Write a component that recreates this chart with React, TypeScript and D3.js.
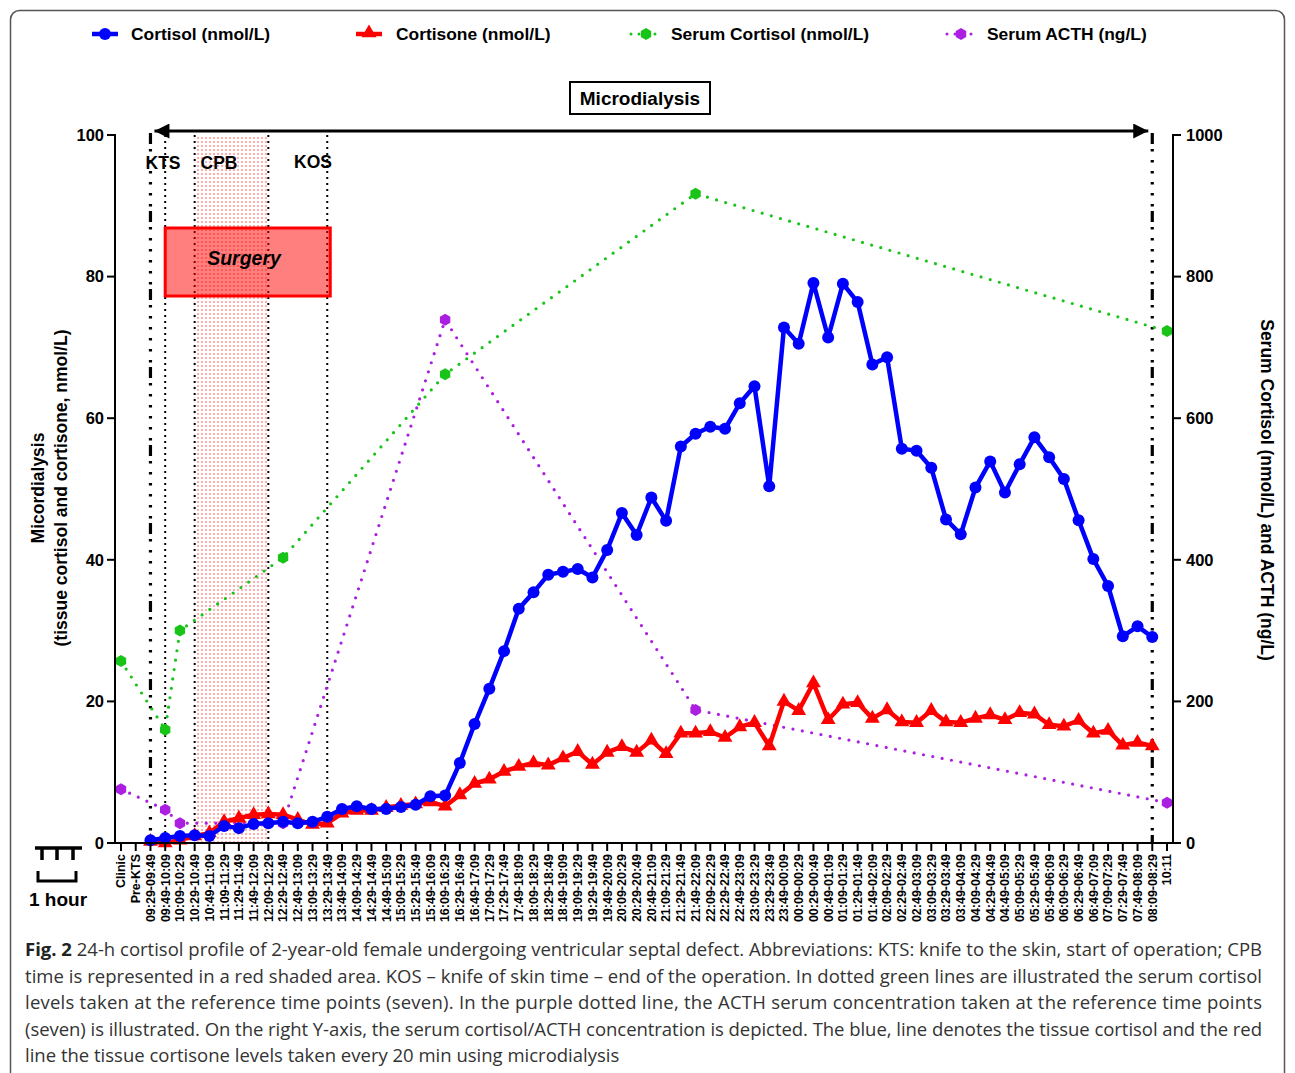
import React from "react";
import * as d3 from "d3";

const timeLabels = [
  "09:29-09:49","09:49-10:09","10:09-10:29","10:29-10:49","10:49-11:09","11:09-11:29","11:29-11:49","11:49-12:09",
  "12:09-12:29","12:29-12:49","12:49-13:09","13:09-13:29","13:29-13:49","13:49-14:09","14:09-14:29","14:29-14:49",
  "14:49-15:09","15:09-15:29","15:29-15:49","15:49-16:09","16:09-16:29","16:29-16:49","16:49-17:09","17:09-17:29",
  "17:29-17:49","17:49-18:09","18:09-18:29","18:29-18:49","18:49-19:09","19:09-19:29","19:29-19:49","19:49-20:09",
  "20:09-20:29","20:29-20:49","20:49-21:09","21:09-21:29","21:29-21:49","21:49-22:09","22:09-22:29","22:29-22:49",
  "22:49-23:09","23:09-23:29","23:29-23:49","23:49-00:09","00:09-00:29","00:29-00:49","00:49-01:09","01:09-01:29",
  "01:29-01:49","01:49-02:09","02:09-02:29","02:29-02:49","02:49-03:09","03:09-03:29","03:29-03:49","03:49-04:09",
  "04:09-04:29","04:29-04:49","04:49-05:09","05:09-05:29","05:29-05:49","05:49-06:09","06:09-06:29","06:29-06:49",
  "06:49-07:09","07:09-07:29","07:29-07:49","07:49-08:09","08:09-08:29",
];
const categories = ["Clinic", "Pre-KTS", ...timeLabels, "10:11"];

// Microdialysis tissue cortisol (nmol/L), one per 20-min interval
const cortisol = [
  0.4, 0.7, 1.0, 1.1, 1.0, 2.4, 2.1, 2.7, 2.8, 3.0, 2.8, 3.0, 3.7, 4.8, 5.2, 4.8,
  4.8, 5.1, 5.4, 6.6, 6.7, 11.3, 16.8, 21.8, 27.1, 33.1, 35.4, 37.9, 38.3, 38.7, 37.5, 41.4,
  46.6, 43.5, 48.8, 45.5, 56.0, 57.8, 58.8, 58.5, 62.1, 64.5, 50.4, 72.8, 70.5, 79.1, 71.4, 79.0,
  76.4, 67.6, 68.6, 55.7, 55.4, 53.0, 45.7, 43.6, 50.2, 53.9, 49.5, 53.5, 57.3, 54.5, 51.4, 45.6,
  40.1, 36.3, 29.2, 30.6, 29.1,
];
// Microdialysis tissue cortisone (nmol/L)
const cortisone = [
  0.2, 0.0, 0.4, 1.0, 1.4, 3.0, 3.5, 4.0, 4.1, 4.0, 3.3, 2.6, 2.8, 4.2, 4.6, 4.6,
  5.0, 5.3, 5.5, 5.8, 5.2, 6.8, 8.4, 9.0, 10.1, 10.8, 11.3, 11.0, 12.0, 12.9, 11.1, 12.8,
  13.6, 12.8, 14.5, 12.6, 15.5, 15.5, 15.7, 14.9, 16.4, 17.0, 13.7, 20.0, 18.7, 22.6, 17.4, 19.6,
  19.8, 17.6, 18.8, 17.1, 17.0, 18.7, 17.1, 17.0, 17.6, 18.1, 17.4, 18.4, 18.2, 16.7, 16.5, 17.3,
  15.5, 15.9, 13.8, 14.2, 13.7,
];
// Serum samples (right axis)
const serumTimes = ["Clinic", "09:49-10:09", "10:09-10:29", "12:29-12:49", "16:09-16:29", "21:49-22:09", "10:11"];
const serumCortisol = [257, 160, 300, 403, 662, 917, 723];
const serumACTH = [76, 47, 28, 28, 739, 188, 57];

const leftTicks = [0, 20, 40, 60, 80, 100];
const rightTicks = [0, 200, 400, 600, 800, 1000];

const captionLines = [
  "24-h cortisol profile of 2-year-old female undergoing ventricular septal defect. Abbreviations: KTS: knife to the skin, start of operation; CPB",
  "time is represented in a red shaded area. KOS – knife of skin time – end of the operation. In dotted green lines are illustrated the serum cortisol",
  "levels taken at the reference time points (seven). In the purple dotted line, the ACTH serum concentration taken at the reference time points",
  "(seven) is illustrated. On the right Y-axis, the serum cortisol/ACTH concentration is depicted. The blue, line denotes the tissue cortisol and the red",
  "line the tissue cortisone levels taken every 20 min using microdialysis",
];

const BLUE = "#0000ff";
const RED = "#ff0000";
const GREEN = "#19c419";
const PURPLE = "#aa1fe0";
const FONT = "'Liberation Sans', Arial, Helvetica, sans-serif";

function hexPath(r: number) {
  const pts: [number, number][] = d3.range(6).map((k) => {
    const a = (Math.PI / 3) * k + Math.PI / 6;
    return [r * Math.cos(a), r * Math.sin(a)];
  });
  return "M" + pts.map((p) => p.join(",")).join("L") + "Z";
}

export default function App() {
  const x = d3.scalePoint<string>().domain(categories).range([121, 1167]);
  const yL = d3.scaleLinear().domain([0, 100]).range([843, 135]);
  const yR = d3.scaleLinear().domain([0, 1000]).range([843, 135]);

  const lineL = d3
    .line<[string, number]>()
    .x((d) => x(d[0])!)
    .y((d) => yL(d[1]));
  const lineR = d3
    .line<[string, number]>()
    .x((d) => x(d[0])!)
    .y((d) => yR(d[1]));

  const cortPts: [string, number][] = timeLabels.map((t, i) => [t, cortisol[i]]);
  const consPts: [string, number][] = timeLabels.map((t, i) => [t, cortisone[i]]);
  const scPts: [string, number][] = serumTimes.map((t, i) => [t, serumCortisol[i]]);
  const acPts: [string, number][] = serumTimes.map((t, i) => [t, serumACTH[i]]);

  const tri = d3.symbol().type(d3.symbolTriangle).size(95)()!;
  const hex = hexPath(6);

  const xKTS = x("09:29-09:49")!;
  const xKTS2 = x("09:49-10:09")!;
  const xCPB1 = x("10:29-10:49")!;
  const xCPB2 = x("12:09-12:29")!;
  const xKOS = x("13:29-13:49")!;
  const xEnd = x("08:09-08:29")!;

  const dashDot = "11 5 2.5 8.5 2.5 8.5 2.5 8.5 2.5 8.5 2.5 8.5 2.5 4.5";

  return (
    <svg
      width={1295}
      height={1073}
      style={{ position: "absolute", left: 0, top: 0, background: "#fff" }}
      fontFamily={FONT}
    >
      <defs>
        <pattern id="cpbdots" width="4" height="4" patternUnits="userSpaceOnUse">
          <circle cx="2" cy="2" r="0.75" fill="#ff3030" />
        </pattern>
        <marker id="arrowR" viewBox="0 0 10 10" refX="10" refY="5" markerWidth="7" markerHeight="5" orient="auto" markerUnits="strokeWidth">
          <path d="M0,0L10,5L0,10Z" fill="#000" />
        </marker>
        <marker id="arrowL" viewBox="0 0 10 10" refX="0" refY="5" markerWidth="7" markerHeight="5" orient="auto" markerUnits="strokeWidth">
          <path d="M10,0L0,5L10,10Z" fill="#000" />
        </marker>
      </defs>

      <rect x={10.5} y={10.5} width={1274} height={1090} rx={9} fill="#fff" stroke="#555" strokeWidth={1.5} />

      {/* Legend */}
      <g fontWeight="bold" fontSize={17.4}>
        <line x1={92} x2={118} y1={34} y2={34} stroke={BLUE} strokeWidth={4.5} />
        <circle cx={105} cy={34} r={6} fill={BLUE} />
        <text x={131} y={40}>Cortisol (nmol/L)</text>
        <line x1={356} x2={382} y1={34} y2={34} stroke={RED} strokeWidth={4.5} />
        <path d={tri} transform="translate(369,33)" fill={RED} />
        <text x={396} y={40}>Cortisone (nmol/L)</text>
        <line x1={631} x2={656} y1={34} y2={34} stroke={GREEN} strokeWidth={3} strokeDasharray="0 8" strokeLinecap="round" />
        <path d={hex} transform="translate(646,34)" fill={GREEN} />
        <text x={671} y={40}>Serum Cortisol (nmol/L)</text>
        <line x1={947} x2={972} y1={34} y2={34} stroke={PURPLE} strokeWidth={3} strokeDasharray="0 8" strokeLinecap="round" />
        <path d={hex} transform="translate(961,34)" fill={PURPLE} />
        <text x={987} y={40}>Serum ACTH (ng/L)</text>
      </g>

      {/* Microdialysis box and arrow */}
      <rect x={570} y={82} width={140} height={32} fill="#fff" stroke="#000" strokeWidth={2} />
      <text x={640} y={105} textAnchor="middle" fontWeight="bold" fontSize={19}>Microdialysis</text>
      <line x1={xKTS + 4} x2={xEnd - 4} y1={131} y2={131} stroke="#000" strokeWidth={3} markerStart="url(#arrowL)" markerEnd="url(#arrowR)" />

      {/* CPB shaded area */}
      <rect x={xCPB1} y={135} width={xCPB2 - xCPB1} height={843 - 135} fill="url(#cpbdots)" />

      {/* Event lines */}
      {[xKTS2, xCPB1, xCPB2, xKOS].map((xx, i) => (
        <line key={i} x1={xx} x2={xx} y1={135} y2={843} stroke="#000" strokeWidth={2} strokeDasharray="2 4" />
      ))}
      {[xKTS, xEnd].map((xx, i) => (
        <line key={i} x1={xx} x2={xx} y1={133} y2={843} stroke="#000" strokeWidth={3.2} strokeDasharray={dashDot} />
      ))}
      <g fontWeight="bold" fontSize={17.5} textAnchor="middle">
        <text x={163} y={169}>KTS</text>
        <text x={219} y={169}>CPB</text>
        <text x={313} y={168}>KOS</text>
      </g>

      {/* Surgery box */}
      <rect x={xKTS2} y={228} width={xKOS + 3 - xKTS2} height={68} fill="rgba(255,0,0,0.5)" stroke={RED} strokeWidth={3} />
      <text x={244} y={265} textAnchor="middle" fontWeight="bold" fontStyle="italic" fontSize={19.5}>Surgery</text>

      {/* Serum series (right axis) */}
      <path d={lineR(acPts)!} fill="none" stroke={PURPLE} strokeWidth={3.2} strokeDasharray="0 9.5" strokeLinecap="round" />
      {acPts.map((p, i) => (
        <path key={"a" + i} d={hex} transform={`translate(${x(p[0])},${yR(p[1])})`} fill={PURPLE} />
      ))}
      <path d={lineR(scPts)!} fill="none" stroke={GREEN} strokeWidth={3.2} strokeDasharray="0 9.5" strokeLinecap="round" />
      {scPts.map((p, i) => (
        <path key={"s" + i} d={hex} transform={`translate(${x(p[0])},${yR(p[1])})`} fill={GREEN} />
      ))}

      {/* Cortisone */}
      <path d={lineL(consPts)!} fill="none" stroke={RED} strokeWidth={4.5} strokeLinejoin="round" />
      {consPts.map((p, i) => (
        <path key={"c" + i} d={tri} transform={`translate(${x(p[0])},${yL(p[1])})`} fill={RED} />
      ))}
      {/* Cortisol */}
      <path d={lineL(cortPts)!} fill="none" stroke={BLUE} strokeWidth={4.5} strokeLinejoin="round" />
      {cortPts.map((p, i) => (
        <circle key={"b" + i} cx={x(p[0])} cy={yL(p[1])} r={6} fill={BLUE} />
      ))}

      {/* Axes */}
      <g fontWeight="bold" fontSize={16.5}>
        <line x1={115} x2={115} y1={134} y2={844} stroke="#000" strokeWidth={2} />
        {leftTicks.map((t) => (
          <g key={t}>
            <line x1={107} x2={115} y1={yL(t)} y2={yL(t)} stroke="#000" strokeWidth={2} />
            <text x={104} y={yL(t)} dy="0.35em" textAnchor="end">{t}</text>
          </g>
        ))}
        <line x1={1173} x2={1173} y1={134} y2={844} stroke="#000" strokeWidth={2} />
        {rightTicks.map((t) => (
          <g key={t}>
            <line x1={1173} x2={1181} y1={yR(t)} y2={yR(t)} stroke="#000" strokeWidth={2} />
            <text x={1186} y={yR(t)} dy="0.35em" textAnchor="start">{t}</text>
          </g>
        ))}
      </g>
      <g fontWeight="bold" fontSize={17.5} textAnchor="middle">
        <text transform="translate(44,488) rotate(-90)">Micordialysis</text>
        <text transform="translate(67,488) rotate(-90)">(tissue cortisol and cortisone, nmol/L)</text>
        <text transform="translate(1261,490) rotate(90)">Serum Cortisol (nmol/L) and ACTH (ng/L)</text>
      </g>

      {/* X axis */}
      <line x1={114} x2={1174} y1={843} y2={843} stroke="#000" strokeWidth={2} />
      {categories.map((c) => (
        <g key={c}>
          <line x1={x(c)} x2={x(c)} y1={843} y2={851} stroke="#000" strokeWidth={2} />
          <text
            transform={`translate(${x(c)},854) rotate(-90)`}
            dy="0.35em"
            textAnchor="end"
            fontWeight="bold"
            fontSize={12.5}
          >
            {c}
          </text>
        </g>
      ))}

      {/* 1 hour scale bar */}
      <g stroke="#000" strokeWidth={3.5} fill="none">
        <line x1={35} x2={82} y1={848} y2={848} />
        <line x1={42} x2={42} y1={848} y2={860} />
        <line x1={57} x2={57} y1={848} y2={860} />
        <line x1={73} x2={73} y1={848} y2={860} />
        <path d="M38,871V881H76V871" strokeWidth={3} />
      </g>
      <text x={58} y={906} textAnchor="middle" fontWeight="bold" fontSize={19}>1 hour</text>

      {/* Caption */}
      <g fontFamily="'Open Sans', 'Noto Sans', sans-serif" fontSize={18.5} fill="#333">
        {captionLines.map((ln, i) => (
          <text
            key={i}
            x={25}
            y={956 + i * 26.6}
            textLength={i < 4 ? 1237 : undefined}
            lengthAdjust={i < 4 ? "spacing" : undefined}
          >
            {i === 0 ? (
              <>
                <tspan fontWeight="bold" fill="#222">Fig. 2</tspan>
                <tspan> {ln}</tspan>
              </>
            ) : (
              ln
            )}
          </text>
        ))}
      </g>
    </svg>
  );
}
